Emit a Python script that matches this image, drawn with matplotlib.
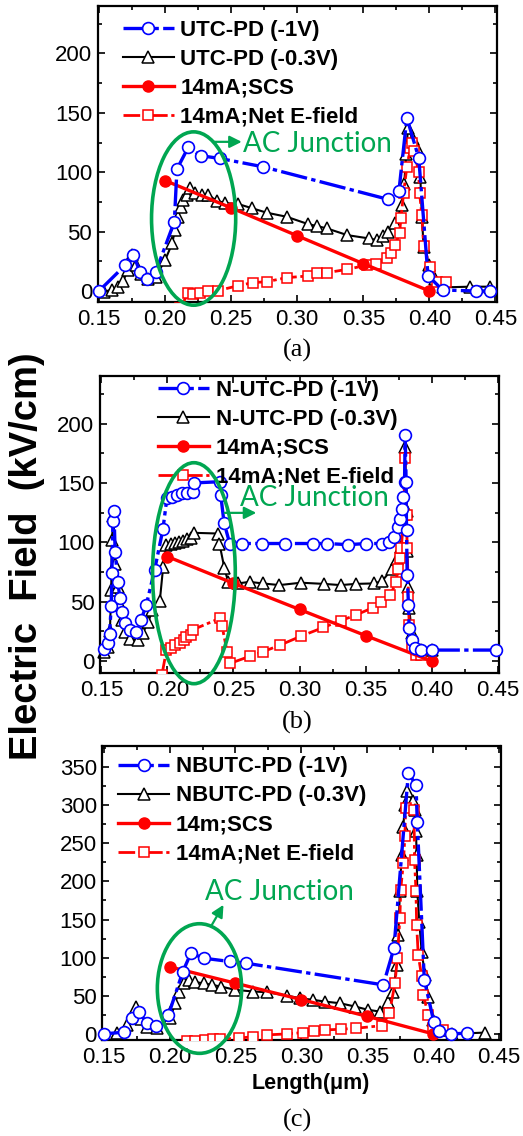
import matplotlib
matplotlib.use("Agg")
import matplotlib.pyplot as plt
from matplotlib.patches import Ellipse
from matplotlib.ticker import MultipleLocator, FormatStrFormatter

# ---------------- data ----------------
# Panel (a) UTC-PD
a_blue_x = [0.150, 0.170, 0.176, 0.181, 0.186, 0.193, 0.207, 0.209, 0.2175, 0.227, 0.2415, 0.274,
            0.369, 0.377, 0.383, 0.392, 0.399, 0.410, 0.435, 0.446]
a_blue_y = [0, 21.9, 30.3, 16.3, 9.8, 16.3, 58.3, 102.7, 120.9, 113.9, 111.6, 104.6,
            77.1, 84.2, 145.9, 111.9, 12.9, 0.8, 0, 0]
a_black_x = [0.154, 0.160, 0.164, 0.168, 0.172, 0.175, 0.178, 0.182, 0.187, 0.193, 0.200, 0.2054,
             0.2074, 0.2094, 0.212, 0.2137, 0.2165, 0.2188, 0.2226, 0.2276, 0.2327, 0.239, 0.2455,
             0.2554, 0.266, 0.277, 0.292, 0.308, 0.3148, 0.3224, 0.338, 0.354, 0.3603, 0.365,
             0.369, 0.3742, 0.3793, 0.381, 0.3825, 0.3838, 0.3875, 0.3907, 0.3932, 0.3944, 0.3957,
             0.400, 0.4045, 0.410, 0.431, 0.446]
a_black_y = [-0.5, 1, 3.6, 8, 17.7, 30, 22, 14, 10, 12, 26, 40,
             51, 62.5, 71, 76.6, 81, 86.4, 82.2, 80.8, 80.8, 76, 74,
             73.2, 69.6, 65.9, 62.5, 56.4, 54.7, 52.7, 47, 44.3, 42.9, 46,
             50, 57, 72, 90, 115, 137, 128, 120, 96, 62, 37,
             22, 10, 3, 3.6, 3.6]
a_scs_x = [0.20, 0.25, 0.30, 0.35, 0.40]
a_scs_y = [93, 70, 46.5, 23, 0]
a_net_x = [0.2115, 0.2175, 0.2208, 0.2264, 0.2327, 0.2402, 0.2554, 0.2663, 0.277, 0.292, 0.308,
           0.3148, 0.3224, 0.338, 0.3532, 0.3598, 0.3679, 0.371, 0.3742, 0.3775, 0.3785, 0.3805,
           0.383, 0.3856, 0.387, 0.3886, 0.3919, 0.3926, 0.3944, 0.3957, 0.4007, 0.4058, 0.4129]
a_net_y = [-14, -2, -2.7, -2, 0, 0.3, 4.5, 7, 7.8, 11.2, 12.6,
           14.9, 15.4, 18.2, 21.9, 22.4, 27.5, 31.7, 38.7, 49.1, 61.2, 82.2,
           104.6, 120, 125, 118, 100, 82.5, 63.7, 37.9, 20.5, 7.9, 7.9]

# Panel (b) N-UTC-PD
b_blue_x = [0.152, 0.155, 0.1562, 0.1575, 0.158, 0.1588, 0.1595, 0.1605, 0.1625, 0.164, 0.1658,
            0.1683, 0.172, 0.1765, 0.180, 0.184, 0.1903, 0.1966, 0.1996, 0.2034, 0.2071, 0.2109,
            0.2146, 0.2195, 0.2201, 0.2395, 0.2404, 0.2429, 0.2472, 0.2567, 0.2718, 0.2893, 0.3103,
            0.3211, 0.3369, 0.3504, 0.3624, 0.3674, 0.3712, 0.3745, 0.3761, 0.3779, 0.3785, 0.3795,
            0.380, 0.3807, 0.381, 0.3815, 0.3825, 0.383, 0.385, 0.3875, 0.392, 0.400, 0.449]
b_blue_y = [9.8, 14.9, 22.7, 46.3, 73.8, 118, 126.5, 92, 66.7, 53.3, 41,
            32.3, 26.1, 24.7, 34.5, 47.1, 76.6, 110.8, 136.9, 138.2, 139.7, 141.1,
            141.6, 142.4, 150, 151, 139.7, 116.4, 99, 99, 99, 99, 99,
            99, 98, 99, 99, 100.4, 104.6, 113, 120, 128, 138, 151,
            190, 151, 110, 72.4, 47, 27.5, 17.7, 10.7, 9.3, 9.3, 9.3]
b_black_x = [0.152, 0.155, 0.1565, 0.1575, 0.158, 0.1592, 0.1605, 0.1625, 0.164, 0.166, 0.168,
             0.1718, 0.1775, 0.1815, 0.1856, 0.1886, 0.1943, 0.1968, 0.1993, 0.2025, 0.2055,
             0.2085, 0.2115, 0.2145, 0.2175, 0.2201, 0.2382, 0.2394, 0.2432, 0.246, 0.2532,
             0.2622, 0.2722, 0.2848, 0.3011, 0.3186, 0.3311, 0.3424, 0.3562, 0.3624, 0.3699,
             0.3737, 0.377, 0.379, 0.380, 0.381, 0.3815, 0.3825, 0.383, 0.385, 0.388, 0.392, 0.400]
b_black_y = [8, 12, 25, 60, 101.8, 122, 82, 62, 47, 35, 24.7,
             19, 17.7, 24, 33, 43, 51, 79.3, 97.6, 98.5, 99.5,
             100.5, 101.5, 102.5, 103.5, 108, 107.4, 99, 78, 66.7, 65.4,
             66.7, 65.4, 64, 66, 65, 64, 65, 65.4, 67.3, 77.3,
             86.3, 96, 126, 180, 126, 93, 62, 45, 24, 12, 9, 9]
b_scs_x = [0.20, 0.25, 0.30, 0.35, 0.40]
b_scs_y = [88, 65.5, 43.5, 21.5, 0]
b_net_x = [0.1958, 0.1993, 0.2031, 0.2061, 0.2094, 0.2126, 0.2144, 0.2175, 0.2196, 0.2397, 0.2414,
           0.2452, 0.2472, 0.2627, 0.2722, 0.2853, 0.3011, 0.318, 0.3311, 0.3424, 0.3554, 0.362,
           0.3687, 0.373, 0.3744, 0.3763, 0.377, 0.379, 0.380, 0.381, 0.3815, 0.3825, 0.383,
           0.3855, 0.388, 0.392]
b_net_y = [-12, 9.3, 11, 13.5, 15.4, 17.7, 20, 22, 26.6, 36, 29.5,
           7.8, -2, 4.2, 7.8, 13.5, 21, 28.3, 34, 38.7, 44.9, 49.4,
           55.5, 66.2, 77.4, 86.4, 94.8, 123, 170.6, 123, 94.8, 54, 30,
           12, 5, 5]

# Panel (c) NBUTC-PD
c_blue_x = [0.150, 0.1652, 0.1715, 0.1765, 0.1828, 0.190, 0.1992, 0.2101, 0.2162, 0.2258, 0.2455,
            0.2578, 0.3621, 0.3702, 0.3811, 0.3869, 0.3879, 0.3932, 0.4005, 0.4045, 0.4131, 0.4253]
c_blue_y = [0, 2.2, 21.4, 29.3, 14, 11, 25, 81.8, 105.9, 99.3, 95,
            92.8, 64.3, 112.4, 342, 326.8, 277.8, 70.9, 15.3, 3.9, 0, 0.9]
c_black_x = [0.160, 0.1677, 0.1747, 0.1785, 0.1828, 0.1904, 0.2005, 0.2043, 0.2068, 0.2106, 0.2144,
             0.2194, 0.2258, 0.2321, 0.2391, 0.2497, 0.2636, 0.2737, 0.2889, 0.299, 0.3091,
             0.3179, 0.3293, 0.3407, 0.3508, 0.3596, 0.3659, 0.3697, 0.3722, 0.3735, 0.3747,
             0.376, 0.3773, 0.3785, 0.3798, 0.3848, 0.3861, 0.3869, 0.3874, 0.3879, 0.3894,
             0.3912, 0.3937, 0.3962, 0.400, 0.4051, 0.4139, 0.439]
c_black_y = [1.5, 11.8, 35.9, 20, 9.6, 7.4, 20.6, 40.2, 55.6, 66.5, 70.9,
             67.8, 66.5, 64.3, 62.1, 57.8, 55.6, 54.7, 50.3, 46.8, 44.6,
             42.4, 40.2, 35.9, 31.5, 29.3, 42.4, 55.6, 90.6, 130, 186.8,
             235, 272, 300.6, 318, 305, 294, 265.6, 235, 186.8, 147,
             108, 77.4, 49, 18.4, 5.2, 0, 1.7]
c_scs_x = [0.20, 0.25, 0.30, 0.35, 0.40]
c_scs_y = [88, 66.5, 45, 23, 0]
c_net_x = [0.2131, 0.2194, 0.227, 0.2333, 0.2384, 0.2523, 0.2636, 0.2742, 0.2889, 0.301, 0.3096,
           0.318, 0.3298, 0.3414, 0.3614, 0.3667, 0.371, 0.3727, 0.3747, 0.3753, 0.3773, 0.3785,
           0.3790, 0.3854, 0.3858, 0.3869, 0.3874, 0.3886, 0.3912, 0.3924, 0.3962, 0.400, 0.4076]
c_net_y = [-9, -9, -7.9, -7, -6.6, -5.7, -3.5, -1.3, 0, 1.7, 3.9,
           5.2, 6.1, 7.4, 10.9, 27.1, 66.5, 99.3, 151.8, 189, 224, 259,
           296, 294, 228.4, 186.8, 143, 103.7, 75.3, 51.2, 25, 7.4, 5.2]

panel_labels = ["(a)", "(b)", "(c)"]
legend_a = ["UTC-PD (-1V)", "UTC-PD (-0.3V)", "14mA;SCS", "14mA;Net E-field"]
legend_b = ["N-UTC-PD (-1V)", "N-UTC-PD (-0.3V)", "14mA;SCS", "14mA;Net E-field"]
legend_c = ["NBUTC-PD (-1V)", "NBUTC-PD (-0.3V)", "14m;SCS", "14mA;Net E-field"]
annot_text = "AC Junction"
y_label = "Electric  Field  (kV/cm)"
x_label = "Length(\u03bcm)"

# ---------------- style ----------------
plt.rcParams['font.family'] = ['Liberation Sans', 'DejaVu Sans']
BLUE = '#0000ff'
RED = '#ff0000'
GREEN = '#00a651'
W, H = 523, 1136
fig = plt.figure(figsize=(W / 100, H / 100), dpi=100)


def px_axes(l, r, t, b):
    return fig.add_axes([l / W, 1 - b / H, (r - l) / W, (b - t) / H])


def draw(ax, bx, by, kx, ky, sx, sy, nx, ny, labels, ylim, ymaj, leg_anchor,
         ell, arrow, text_xy):
    dashdot = (0, (8, 1.3, 1.3, 1.3))
    l_k, = ax.plot(kx, ky, '-', color='black', lw=1.5, marker='^', ms=8.5, mfc='white',
                   mec='black', mew=1.1, zorder=2, clip_on=False)
    l_n, = ax.plot(nx, ny, linestyle=(0, (6, 1.3, 1.3, 1.3)), color=RED, lw=2.0, marker='s',
                   ms=7, mfc='white', mec=RED, mew=1.1, zorder=3)
    l_s, = ax.plot(sx, sy, '-', color=RED, lw=2.4, marker='o', ms=8, mfc=RED, mec=RED,
                   zorder=4, clip_on=False)
    l_b, = ax.plot(bx, by, linestyle=dashdot, color=BLUE, lw=2.4, marker='o', ms=8.5,
                   mfc='white', mec=BLUE, mew=1.2, zorder=5, clip_on=False)
    ax.set_xlim(0.149, 0.451)
    ax.set_ylim(*ylim)
    ax.xaxis.set_major_locator(MultipleLocator(0.05))
    ax.xaxis.set_minor_locator(MultipleLocator(0.025))
    ax.yaxis.set_major_locator(MultipleLocator(ymaj))
    ax.yaxis.set_minor_locator(MultipleLocator(ymaj / 2))
    ax.xaxis.set_major_formatter(FormatStrFormatter('%.2f'))
    ax.tick_params(which='both', direction='in', top=True, right=True, width=1.2,
                   labelsize=16)
    ax.tick_params(which='major', length=5)
    ax.tick_params(which='minor', length=3)
    ax.tick_params(axis='x', pad=5)
    ax.tick_params(axis='y', pad=4)
    for s in ax.spines.values():
        s.set_linewidth(1.6)
    ax.legend([l_b, l_k, l_s, l_n], labels, loc='upper left', bbox_to_anchor=leg_anchor,
              frameon=False, borderpad=0, borderaxespad=0, handlelength=2.3,
              handletextpad=0.3, labelspacing=0.36, numpoints=1,
              prop={'weight': 'bold', 'size': 16})
    e = Ellipse(ell[:2], ell[2], ell[3], fill=False, edgecolor=GREEN, lw=2.6, zorder=6,
                clip_on=False)
    ax.add_patch(e)
    ax.annotate('', xy=arrow[2:], xytext=arrow[:2],
                arrowprops=dict(arrowstyle='-|>', color=GREEN, lw=1.6, mutation_scale=18,
                                shrinkA=0, shrinkB=0), zorder=6)
    ax.text(text_xy[0], text_xy[1], annot_text, color=GREEN, fontsize=20,
            family=['Lato', 'DejaVu Sans'], ha='left', va='baseline', zorder=6)


ax_a = px_axes(97.7, 496.7, 6, 302)
draw(ax_a, a_blue_x, a_blue_y, a_black_x, a_black_y, a_scs_x, a_scs_y, a_net_x, a_net_y,
     legend_a, (-9.3, 240), 50, (0.0627, 0.953),
     (0.2216, 61, 0.0637, 146), (0.2364, 125.6, 0.258, 125.6), (0.2587, 117))

ax_b = px_axes(100, 499, 376, 673)
draw(ax_b, b_blue_x, b_blue_y, b_black_x, b_black_y, b_scs_x, b_scs_y, b_net_x, b_net_y,
     legend_b, (-10, 240), 50, (0.145, 0.988),
     (0.2201, 74, 0.0626, 186), (0.2434, 124.8, 0.2673, 124.8), (0.2547, 130.4))

ax_c = px_axes(102.3, 500.5, 745.7, 1040)
draw(ax_c, c_blue_x, c_blue_y, c_black_x, c_black_y, c_scs_x, c_scs_y, c_net_x, c_net_y,
     legend_c, (-8, 378), 50, (0.0394, 0.964),
     (0.2227, 59.5, 0.0639, 170), (0.2321, 143, 0.2409, 169.3), (0.227, 176))

for lab, yy in zip(panel_labels, [350, 722, 1120]):
    fig.text(297 / W, 1 - yy / H, lab, ha='center', va='center', fontsize=19,
             family=['Liberation Serif', 'DejaVu Serif'])

fig.text(27 / W, 1 - 556 / H, y_label, rotation=90, ha='center', va='center',
         fontsize=27.5, fontweight='bold')
fig.text(311 / W, 1 - 1083 / H, x_label, ha='center', va='center', fontsize=15.5,
         fontweight='bold')

fig.savefig('out.png', dpi=100)
